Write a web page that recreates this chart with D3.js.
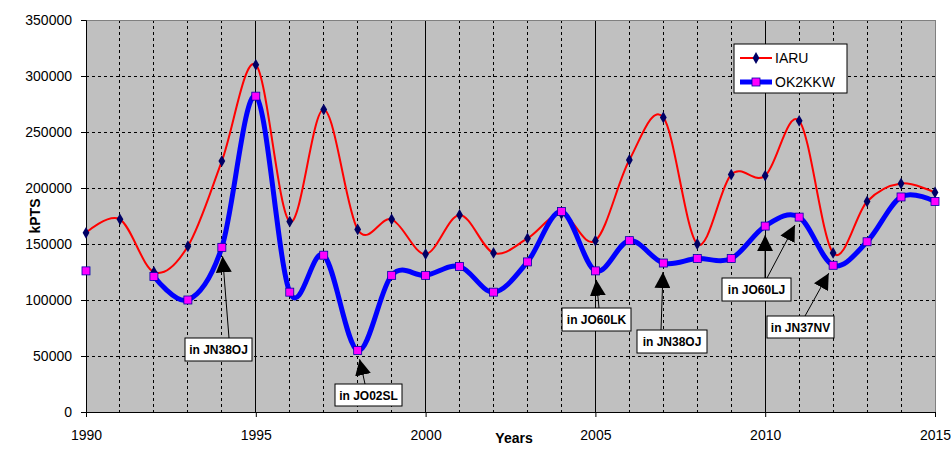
<!DOCTYPE html>
<html><head><meta charset="utf-8">
<script src="https://cdn.jsdelivr.net/npm/d3@7"></script>
<style>body{margin:0;background:#fff;} svg{display:block;font-family:"Liberation Sans",Arial,sans-serif;}</style>
</head><body><svg id="c" width="951" height="452"></svg>
<script>
const years = d3.range(1990, 2016);
const iaru = [160000,172000,125000,148000,224000,310000,170000,270000,163000,172000,141000,176000,142000,155000,177000,153000,225000,263000,150000,212000,211000,260000,142000,188000,204000,196000];
const ok2kkw = [126000,null,121000,100000,147000,282000,107000,140000,55000,122000,122000,130000,107000,134000,179000,126000,153000,133000,137000,137000,166000,174000,131000,152000,192000,188000];
const xTicks = [1990,1995,2000,2005,2010,2015];
const yTicks = [0,50000,100000,150000,200000,250000,300000,350000];
const notes = [
  {text:"in JN38OJ", year:1994, bx:185, by:338, bw:67, bh:23, sx:229},
  {text:"in JO02SL", year:1998, bx:335, by:384, bw:67, bh:22, sx:365},
  {text:"in JO60LK", year:2005, bx:562, by:308, bw:69, bh:23, sx:599},
  {text:"in JN38OJ", year:2007, bx:637, by:330, bw:70, bh:23, sx:661},
  {text:"in JO60LJ", year:2010, bx:722, by:278, bw:69, bh:23, sx:765},
  {text:"in JO60LJ", year:2011, bx:722, by:278, bw:69, bh:23, sx:767, noBox:true},
  {text:"in JN37NV", year:2012, bx:767, by:316, bw:67, bh:22, sx:805}
];

const svg = d3.select("#c");
const L=86, R=935, T=20, B=412;
const x = d3.scaleLinear().domain([1990,2015]).range([L,R]);
const y = d3.scaleLinear().domain([0,350000]).range([B,T]);

svg.append("rect").attr("x",L).attr("y",T).attr("width",R-L).attr("height",B-T).attr("fill","#C0C0C0");

// grid
svg.append("g").selectAll("line").data(years.slice(1,-1)).join("line")
  .attr("x1",d=>x(d)).attr("x2",d=>x(d)).attr("y1",T).attr("y2",B)
  .attr("stroke","#000").attr("stroke-width",1)
  .attr("stroke-dasharray",d=>d%5===0?null:"3,3").attr("shape-rendering","crispEdges");
svg.append("g").selectAll("line").data(yTicks.slice(1,-1)).join("line")
  .attr("x1",L).attr("x2",R).attr("y1",d=>y(d)).attr("y2",d=>y(d))
  .attr("stroke","#000").attr("stroke-dasharray","3,3").attr("shape-rendering","crispEdges");
// frame
svg.append("line").attr("x1",L).attr("x2",R).attr("y1",T).attr("y2",T).attr("stroke","#808080").attr("shape-rendering","crispEdges");
svg.append("line").attr("x1",R).attr("x2",R).attr("y1",T).attr("y2",B).attr("stroke","#808080").attr("shape-rendering","crispEdges");

// axes
const yAxis = d3.axisLeft(y).tickValues(yTicks).tickSize(5).tickFormat(d3.format("d"));
const gy = svg.append("g").attr("transform",`translate(${L},0)`).call(yAxis);
gy.select(".domain").attr("stroke","#000");
gy.selectAll(".tick line").attr("stroke","#000");
gy.selectAll("text").attr("font-size",14).attr("fill","#000").attr("font-family","Liberation Sans, Arial").attr("x",-14);
const xAxis = d3.axisBottom(x).tickValues(xTicks).tickSize(5).tickFormat(d3.format("d"));
const gx = svg.append("g").attr("transform",`translate(0,${B})`).call(xAxis);
gx.select(".domain").attr("stroke","#000");
gx.selectAll("text").attr("font-size",14).attr("fill","#000").attr("font-family","Liberation Sans, Arial").attr("y",28).attr("dy",0);

svg.append("text").attr("transform","translate(40,216) rotate(-90)").attr("text-anchor","middle")
  .attr("font-size",14).attr("font-weight","bold").text("kPTS");
svg.append("text").attr("x",514).attr("y",443).attr("text-anchor","middle")
  .attr("font-size",14).attr("font-weight","bold").text("Years");

const line = d3.line().defined(d=>d.v!=null).x(d=>x(d.y)).y(d=>y(d.v)).curve(d3.curveCardinal.tension(0));
const dIaru = years.map((yr,i)=>({y:yr,v:iaru[i]}));
const dOk = years.map((yr,i)=>({y:yr,v:ok2kkw[i]}));

svg.append("path").attr("d",line(dIaru)).attr("fill","none").attr("stroke","#FF0000").attr("stroke-width",2);
svg.append("path").attr("d",line(dOk)).attr("fill","none").attr("stroke","#0000FF").attr("stroke-width",5);

const diamond = d3.symbol().type(d3.symbolDiamond).size(40);
svg.append("g").selectAll("path").data(dIaru).join("path")
  .attr("transform",d=>`translate(${x(d.y)},${y(d.v)})`).attr("d",diamond).attr("fill","#000066");
svg.append("g").selectAll("rect").data(dOk.filter(d=>d.v!=null)).join("rect")
  .attr("x",d=>x(d.y)-4).attr("y",d=>y(d.v)-4).attr("width",8).attr("height",8)
  .attr("fill","#FF00FF").attr("stroke","#0000AA").attr("stroke-width",0.8);

// legend
const lg = svg.append("g");
lg.append("rect").attr("x",734).attr("y",44).attr("width",113).attr("height",49).attr("fill","#fff").attr("stroke","#000");
lg.append("line").attr("x1",740).attr("x2",772).attr("y1",58).attr("y2",58).attr("stroke","#FF0000").attr("stroke-width",2);
lg.append("path").attr("transform","translate(756,58)").attr("d",diamond).attr("fill","#000066");
lg.append("text").attr("x",775).attr("y",63).attr("font-size",14).text("IARU");
lg.append("line").attr("x1",740).attr("x2",772).attr("y1",82).attr("y2",82).attr("stroke","#0000FF").attr("stroke-width",5);
lg.append("rect").attr("x",752).attr("y",78).attr("width",8).attr("height",8).attr("fill","#FF00FF").attr("stroke","#0000AA").attr("stroke-width",0.8);
lg.append("text").attr("x",775).attr("y",87).attr("font-size",14).text("OK2KKW");

// annotations
svg.append("defs").append("marker").attr("id","ah").attr("viewBox","0 0 10 10").attr("refX",10).attr("refY",5)
  .attr("markerWidth",16).attr("markerHeight",16).attr("markerUnits","userSpaceOnUse").attr("orient","auto")
  .append("path").attr("d","M0,0 L10,5 L0,10 z").attr("fill","#000");
const ag = svg.append("g");
notes.forEach(n=>{
  const v = ok2kkw[years.indexOf(n.year)];
  const px = x(n.year), py = y(v);
  const sx = n.sx, sy = n.by;
  const dx = px - sx, dy = py - sy, len = Math.hypot(dx,dy);
  const ex = px - dx/len*9, ey = py - dy/len*9;
  ag.append("line").attr("x1",sx).attr("y1",sy).attr("x2",ex).attr("y2",ey)
    .attr("stroke","#000").attr("stroke-width",1).attr("marker-end","url(#ah)");
  if(!n.noBox){
    ag.append("rect").attr("x",n.bx).attr("y",n.by).attr("width",n.bw).attr("height",n.bh)
      .attr("fill","#fff").attr("stroke","#000");
    ag.append("text").attr("x",n.bx+n.bw/2).attr("y",n.by+n.bh/2+4.5).attr("text-anchor","middle")
      .attr("font-size",12).attr("font-weight","bold").text(n.text);
  }
});
</script></body></html>
